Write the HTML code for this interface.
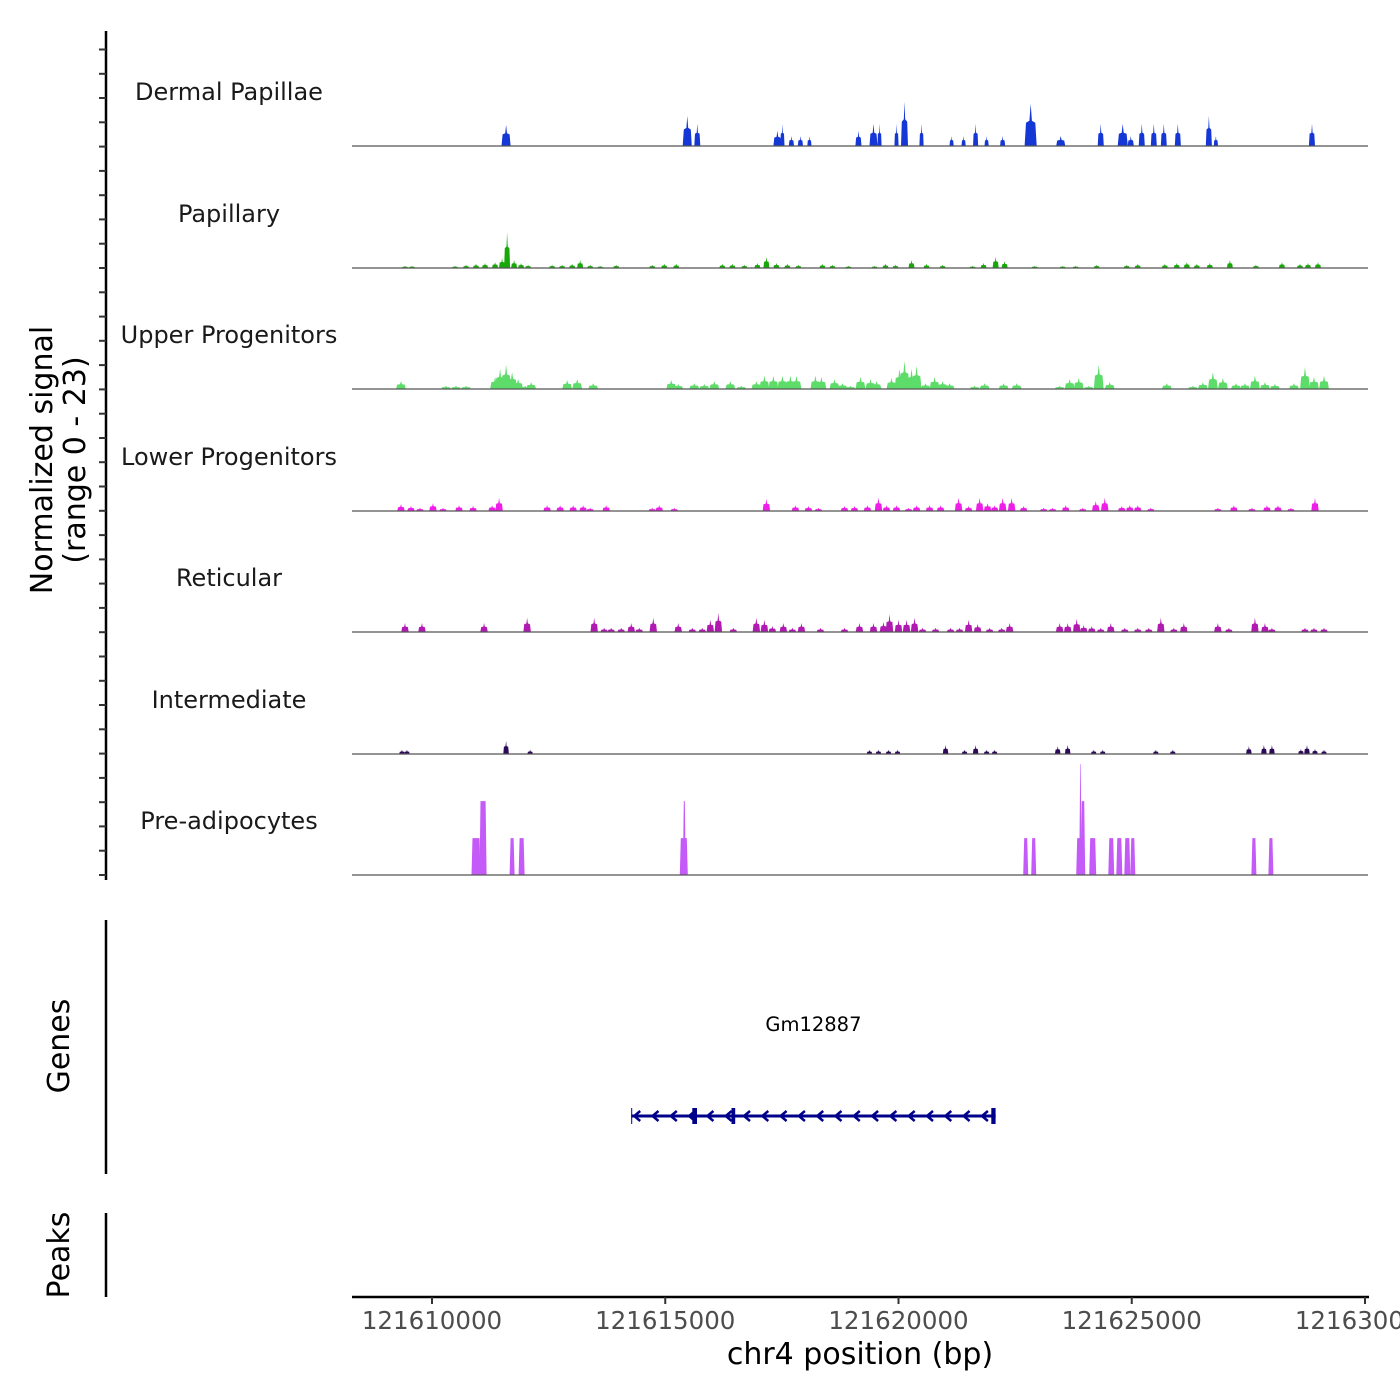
<!DOCTYPE html>
<html><head><meta charset="utf-8"><title>Coverage tracks</title>
<style>
html,body{margin:0;padding:0;background:#fff;}
svg{display:block;font-family:"DejaVu Sans","Liberation Sans",sans-serif;}
</style></head>
<body>
<svg id="chart" width="1400" height="1400" viewBox="0 0 1400 1400" xmlns="http://www.w3.org/2000/svg">
<rect x="0" y="0" width="1400" height="1400" fill="#fff"/>
<g id="tracks"></g>
<g id="yaxis"></g>
<text transform="translate(52,460) rotate(-90)" text-anchor="middle" font-size="30" fill="#000">Normalized signal</text>
<text transform="translate(85,460) rotate(-90)" text-anchor="middle" font-size="30" fill="#000">(range 0 - 23)</text>
<line x1="106" y1="920" x2="106" y2="1174" stroke="#000" stroke-width="2.5"/>
<text transform="translate(69,1046) rotate(-90)" text-anchor="middle" font-size="30" fill="#000">Genes</text>
<line x1="106" y1="1213" x2="106" y2="1297" stroke="#000" stroke-width="2.5"/>
<text transform="translate(69,1255) rotate(-90)" text-anchor="middle" font-size="30" fill="#000">Peaks</text>
<g id="gene"></g>
<g id="xaxis"></g>
<text x="860" y="1364" text-anchor="middle" font-size="30" fill="#000">chr4 position (bp)</text>
</svg>
<script>
// ---- data ----
const xTickValues = [121610000,121615000,121620000,121625000,121630000];
const xTickLabels = ["121610000","121615000","121620000","121625000","121630000"];
const trackNames = ["Dermal Papillae","Papillary","Upper Progenitors","Lower Progenitors","Reticular","Intermediate","Pre-adipocytes"];
const trackColors = ["#1537d6","#17a808","#5ddc6a","#ee1ee8","#b01ab0","#2d0a59","#c45af7"];
const signalMax = 23;

const dermalPos = [121611588,121615472,121615687,121617404,121617511,121617704,121617897,121618090,121619142,121619464,121619593,121619957,121620129,121620494,121621138,121621395,121621653,121621889,121622232,121622833,121623477,121624335,121624807,121624979,121625215,121625473,121625687,121625988,121626653,121626803,121628863];
const dermalVal = [4.0,5.7,4.2,2.9,4.2,1.9,1.9,1.9,2.9,4.2,4.2,4.2,8.4,4.2,1.9,1.9,4.2,1.9,1.9,8.0,1.9,4.2,4.2,1.9,4.2,4.2,4.2,4.2,5.7,1.9,4.2];
const dermalWidthBp = [195,195,130,170,90,110,110,90,130,170,90,90,150,90,90,90,110,90,110,260,195,130,215,130,130,130,130,130,130,90,130];

const papPos = [121609421,121609571,121610494,121610730,121610944,121611137,121611352,121611502,121611610,121611760,121611910,121612060,121612575,121612790,121613004,121613176,121613391,121613605,121613949,121614721,121614979,121615236,121616223,121616438,121616696,121616975,121617168,121617382,121617618,121617854,121618369,121618584,121618927,121619485,121619721,121619936,121620279,121620601,121620945,121621588,121621824,121622082,121622275,121622919,121623520,121623799,121624249,121624893,121625129,121625709,121625966,121626181,121626395,121626674,121627104,121627662,121628220,121628606,121628778,121628992];
const papVal = [0.4,0.4,0.4,0.6,0.8,0.95,1.1,1.9,6.8,1.5,0.95,0.6,0.6,0.6,0.8,1.5,0.6,0.4,0.6,0.6,0.8,0.8,0.8,0.8,0.6,0.95,2.1,0.95,0.8,0.6,0.8,0.6,0.4,0.4,0.8,0.6,1.5,0.8,0.6,0.4,0.95,2.1,1.3,0.4,0.4,0.4,0.6,0.6,0.8,0.8,0.95,1.1,0.8,0.95,1.5,0.6,1.1,0.8,0.95,1.1];

const upperPos = [121609335,121610300,121610515,121610730,121611352,121611459,121611588,121611717,121611846,121611996,121612125,121612897,121613112,121613455,121615129,121615279,121615623,121615837,121616052,121616395,121616631,121616953,121617125,121617318,121617511,121617683,121617811,121618219,121618348,121618627,121618799,121618970,121619185,121619399,121619528,121619850,121620022,121620129,121620279,121620387,121620580,121620773,121620945,121621095,121621631,121621846,121622254,121622533,121623455,121623670,121623863,121624078,121624292,121624528,121625752,121626310,121626524,121626739,121626953,121627232,121627426,121627640,121627855,121628069,121628477,121628713,121628906,121629121];
const upperVal = [1.5,0.6,0.6,0.6,2.3,3.8,4.6,3.2,1.9,0.6,1.3,1.7,1.9,1.1,1.7,0.95,1.1,0.95,1.5,1.5,0.6,1.5,2.5,2.5,2.5,2.5,2.5,2.5,2.3,1.9,1.1,0.6,2.3,1.9,1.5,2.1,3.8,5.3,3.8,4.4,1.1,2.3,1.5,1.1,0.6,1.1,1.1,1.1,0.6,1.9,2.1,0.6,4.6,1.3,1.1,0.6,1.3,3.2,2.1,1.1,1.1,2.5,1.3,0.95,1.1,4.2,2.3,2.5];

const lowerPos = [121609335,121609549,121609742,121610021,121610236,121610579,121610880,121611288,121611438,121612468,121612747,121613026,121613240,121613391,121613734,121614721,121614871,121615193,121617168,121617790,121618069,121618284,121618842,121619056,121619335,121619571,121619743,121619957,121620215,121620387,121620666,121620902,121621288,121621503,121621739,121621910,121622061,121622232,121622425,121622683,121623112,121623305,121623584,121623949,121624228,121624421,121624786,121624958,121625129,121625408,121626846,121627189,121627576,121627898,121628134,121628413,121628928];
const lowerVal = [1.3,0.95,0.6,1.5,0.6,1.1,0.95,1.1,2.5,1.1,1.1,1.1,1.1,0.6,1.1,0.6,1.1,0.6,2.3,1.1,0.95,0.6,0.95,0.95,1.1,2.5,1.1,1.1,0.6,1.1,1.1,1.1,2.5,0.95,2.5,1.5,1.1,2.5,2.5,0.95,0.6,0.6,1.1,0.6,1.9,2.5,0.95,1.1,1.1,0.6,0.6,1.1,0.6,1.1,1.1,0.6,2.5];

const retPos = [121609421,121609785,121611116,121612039,121613477,121613691,121613841,121614056,121614271,121614442,121614743,121615279,121615580,121615794,121615966,121616138,121616459,121616953,121617125,121617296,121617532,121617726,121617919,121618326,121618842,121619163,121619464,121619678,121619807,121620000,121620172,121620344,121620515,121620794,121621116,121621309,121621503,121621696,121621953,121622211,121622382,121623455,121623627,121623820,121623970,121624142,121624335,121624550,121624850,121625129,121625365,121625623,121625902,121626116,121626846,121627082,121627640,121627855,121628005,121628713,121628906,121629121];
const retVal = [1.7,1.7,1.7,2.7,2.7,0.8,0.8,0.8,1.7,0.8,2.7,1.7,0.8,0.8,2.3,3.6,0.8,2.7,2.3,1.1,1.7,0.8,1.7,0.8,0.8,1.7,1.7,1.9,3.4,2.3,2.3,2.7,0.8,0.8,0.8,0.8,2.3,1.5,0.8,0.8,1.7,1.7,1.7,2.5,1.3,1.1,0.8,1.7,0.8,0.8,0.8,2.7,0.8,1.7,1.7,0.8,2.7,1.7,0.8,0.8,0.8,0.8];

const interPos = [121609356,121609463,121611588,121612103,121619378,121619571,121619786,121619979,121621009,121621417,121621653,121621889,121622061,121623413,121623627,121624185,121624378,121625516,121625880,121627511,121627833,121628005,121628627,121628756,121628928,121629121];
const interVal = [0.8,0.8,2.5,0.8,0.8,0.8,0.8,0.8,1.7,0.8,1.7,0.8,0.8,1.5,1.7,0.8,0.8,0.8,0.8,1.5,1.7,1.7,0.95,1.7,0.95,0.8];

const preStart = [121610858,121611030,121611674,121611867,121615322,121615386,121622683,121622855,121623820,121623885,121623917,121624099,121624507,121624679,121624850,121624979,121627576,121627941];
const preEnd   = [121611030,121611159,121611760,121611974,121615472,121615429,121622769,121622941,121623992,121623917,121623992,121624228,121624614,121624786,121624958,121625065,121627662,121628026];
const preVal   = [7,14,7,7,7,14,7,7,7,21,14,7,7,7,7,7,7,7];

const geneStart = 121614271, geneEnd = 121622082;
const exonStart = [121614271,121615580,121616420,121621990];
const exonEnd   = [121614290,121615680,121616500,121622082];

// ---- layout ----
const plotL = 352, plotR = 1368;
const tick0px = 432, pxPer5k = 233.25;
function xScale(bp){ return tick0px + (bp - 121610000) / 5000 * pxPer5k; }
const trackBase = [146,268,389,511,632,754,875];
const trackH = 121.4;
function yScale(v, i){ return trackBase[i] - v / signalMax * trackH; }

const NS = "http://www.w3.org/2000/svg";
function mk(tag, attrs, parent){ const e = document.createElementNS(NS, tag); for (const k in attrs) e.setAttribute(k, attrs[k]); parent.appendChild(e); return e; }

const tracksG = document.getElementById('tracks');
const peakSets = [
  [dermalPos, dermalVal, dermalWidthBp],
  [papPos, papVal, null, 130],
  [upperPos, upperVal, null, 210],
  [lowerPos, lowerVal, null, 160],
  [retPos, retVal, null, 160],
  [interPos, interVal, null, 120]
];

for (let i = 0; i < 7; i++) {
  const g = mk('g', {}, tracksG);
  
  
  const lbl = mk('text', {x:229, y: trackBase[i]-46, 'text-anchor':'middle', 'font-size':24, fill:'#1a1a1a'}, g);
  
  
  lbl.textContent = trackNames[i];
  if (i < 6) {
    const [pos, val, wArr, wConst] = peakSets[i];
    for (let j = 0; j < pos.length; j++) {
      const w = wArr ? wArr[j] : wConst;
      const c = pos[j], v = val[j];
      const b = trackBase[i];
      const pts = [
        [xScale(c - w/2), b],
        [xScale(c - w/2.6), yScale(v*0.55, i)],
        [xScale(c - w/10), yScale(v*0.6, i)],
        [xScale(c), yScale(v, i)],
        [xScale(c + w/10), yScale(v*0.6, i)],
        [xScale(c + w/2.6), yScale(v*0.55, i)],
        [xScale(c + w/2), b]
      ];
      const p = mk('polygon', {points: pts.map(q=>q[0].toFixed(1)+','+q[1].toFixed(1)).join(' '), fill: trackColors[i]}, g);
      
      
    }
  } else {
    for (let j = 0; j < preStart.length; j++) {
      const x0 = xScale(preStart[j]), x1 = xScale(preEnd[j]);
      const b = trackBase[i], t = yScale(preVal[j], i);
      const p = mk('polygon', {points: `${(x0-0.5).toFixed(1)},${b} ${(x0+0.5).toFixed(1)},${t.toFixed(1)} ${(x1-0.5).toFixed(1)},${t.toFixed(1)} ${(x1+0.5).toFixed(1)},${b}`, fill: trackColors[i]}, g);
      
      
    }
  }
  const bl = mk('line', {x1: plotL, x2: plotR, y1: trackBase[i], y2: trackBase[i], stroke:'#555', 'stroke-width':1.2}, g);
  
  
}

// y axis
const ya = document.getElementById('yaxis');
mk('line', {x1:106, x2:106, y1:31, y2:880, stroke:'#000', 'stroke-width':2.5}, ya);
for (let k = 0; k <= 35; k++) {
  const y = 875 - k * (trackH/5);
  if (y < 32) break;
  const t = mk('line', {x1:99, x2:106, y1:y.toFixed(1), y2:y.toFixed(1), stroke:'#333', 'stroke-width':2}, ya);
  
  
}

// gene
const gg = document.getElementById('gene');
const gl = mk('text', {x: xScale((geneStart+geneEnd)/2), y:1031, 'text-anchor':'middle', 'font-size':19.5, fill:'#000'}, gg);


gl.textContent = 'Gm12887';
const gy = 1116;
mk('line', {x1: xScale(geneStart), x2: xScale(geneEnd), y1: gy, y2: gy, stroke:'#00008b', 'stroke-width':3}, gg);
for (let x = xScale(geneStart) + 3; x < xScale(geneEnd) - 4; x += 18.3) {
  const a = mk('polyline', {points: `${(x+6).toFixed(1)},${gy-5} ${x.toFixed(1)},${gy} ${(x+6).toFixed(1)},${gy+5}`, fill:'none', stroke:'#00008b', 'stroke-width':2.5}, gg);
  
  
}
for (let j = 0; j < exonStart.length; j++) {
  const x0 = xScale(exonStart[j]), x1 = xScale(exonEnd[j]);
  const r = mk('rect', {x: x0.toFixed(1), y: gy-8, width: Math.max(1, x1-x0).toFixed(1), height: 16, fill:'#00008b'}, gg);
  
  
}

// x axis
const xa = document.getElementById('xaxis');
mk('line', {x1: plotL, x2: 1369, y1: 1297, y2: 1297, stroke:'#000', 'stroke-width':2.5}, xa);
for (let k = 0; k < xTickValues.length; k++) {
  const x = xScale(xTickValues[k]);
  const t = mk('line', {x1:x, x2:x, y1:1297, y2:1304, stroke:'#333', 'stroke-width':2}, xa);
  
  
  const l = mk('text', {x:x, y:1329, 'text-anchor':'middle', 'font-size':24.5, fill:'#4d4d4d'}, xa);
  
  
  l.textContent = xTickLabels[k];
}
</script>
</body></html>
